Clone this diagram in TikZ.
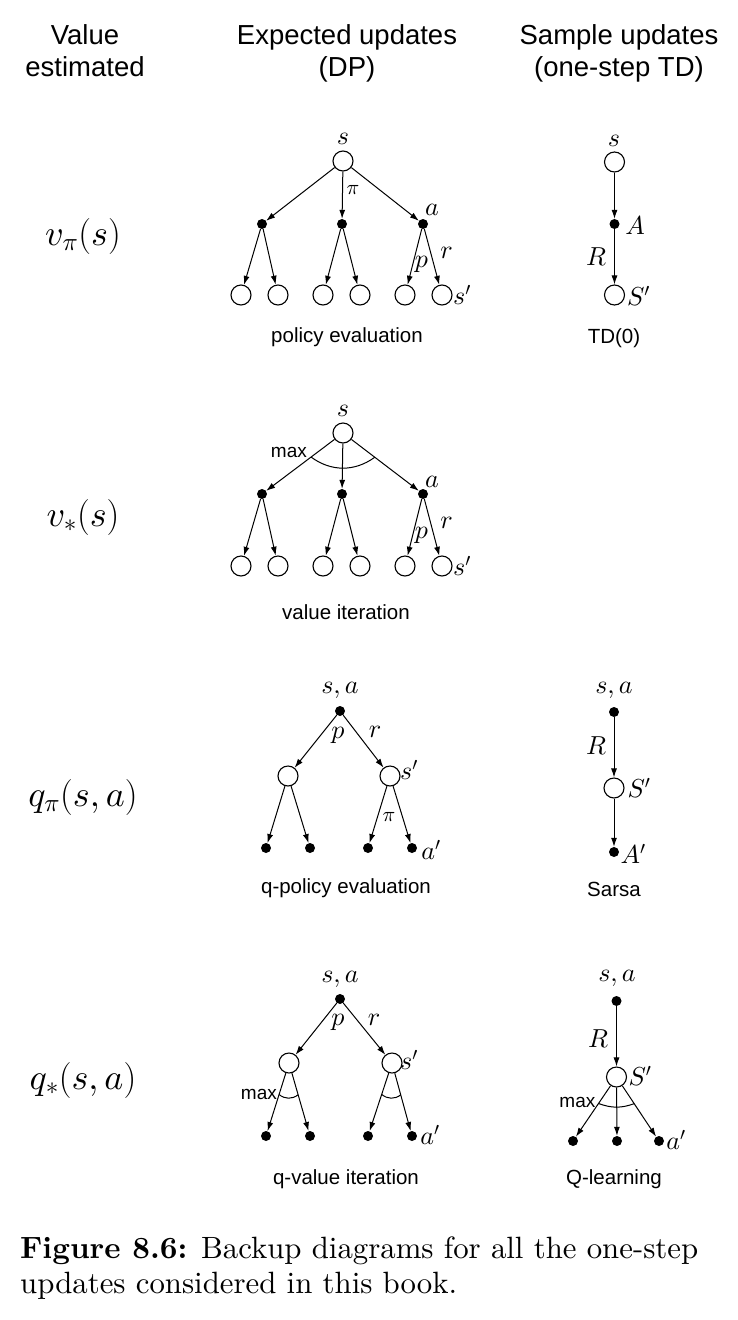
\RequirePackage{fix-cm}
\documentclass[tikz,border=0pt]{standalone}
\usepackage{fontspec}
\DeclareFontShape{OML}{cmm}{m}{it}{<->cmmi10}{}
\DeclareFontShape{OMS}{cmsy}{m}{n}{<->cmsy10}{}
\newfontfamily\hv{Liberation Sans}
\newfontfamily\cmten{lmroman10-regular.otf}[BoldFont=lmroman10-bold.otf]
\usetikzlibrary{arrows.meta,calc}
\begin{document}
\begin{tikzpicture}[x=1pt,y=1pt,
 st/.style={circle,draw,line width=1.1pt,minimum size=20pt,inner sep=0pt},
 act/.style={circle,fill=black,minimum size=10pt,inner sep=0pt},
 arr/.style={-{Latex[length=9pt,width=6pt]},line width=1pt},
 lab/.style={inner sep=0pt,font=\fontsize{26}{30}\selectfont},
 sml/.style={inner sep=0pt,font=\fontsize{21}{24}\selectfont},
 biglab/.style={inner sep=0pt,font=\fontsize{36}{42}\selectfont},
 hdr/.style={inner sep=0pt,anchor=base,font=\hv\fontsize{27.5}{32}\selectfont},
 capt/.style={inner sep=0pt,font=\hv\fontsize{20.5}{24}\selectfont},
 mx/.style={inner sep=0pt,font=\hv\fontsize{19}{22}\selectfont},
 maxarc/.style={line width=1pt},
 figcap/.style={inner sep=0pt,anchor=base west,font=\cmten\fontsize{30.8}{36}\selectfont}
]
\path[use as bounding box] (0,0) rectangle (738,-1320);

% headers
\node[hdr] (h1a) at (85,-44.8) {Value};
\node[hdr] (h1b) at (85,-76.8) {estimated};
\node[hdr] (h2a) at (347,-44.8) {Expected updates};
\node[hdr] (h2b) at (347,-76.8) {(DP)};
\node[hdr] (h3a) at (619,-44.8) {Sample updates};
\node[hdr] (h3b) at (619,-76.8) {(one-step TD)};

% left labels
\node[biglab] (v1) at (83,-236) {$v_\pi(s)$};
\node[biglab] (v2) at (83,-517) {$v_*(s)$};
\node[biglab] (v3) at (83,-797) {$q_\pi(s,a)$};
\node[biglab] (v4) at (83,-1080) {$q_*(s,a)$};

% ---------- policy evaluation
\node[st] (r1) at (343,-161) {};
\node[act] (a11) at (262,-224) {};
\node[act] (a12) at (342,-224) {};
\node[act] (a13) at (423,-224) {};
\node[st] (l11) at (241,-295) {};
\node[st] (l12) at (278,-295) {};
\node[st] (l13) at (323,-295) {};
\node[st] (l14) at (360,-295) {};
\node[st] (l15) at (405,-295) {};
\node[st] (l16) at (442,-295) {};
\foreach \a in {a11,a12,a13} \draw[arr] (r1) -- (\a);
\draw[arr] (a11) -- (l11); \draw[arr] (a11) -- (l12);
\draw[arr] (a12) -- (l13); \draw[arr] (a12) -- (l14);
\draw[arr] (a13) -- (l15); \draw[arr] (a13) -- (l16);
\node[lab] (t11) at (343,-139) {$s$};
\node[sml] (t12) at (353,-190) {$\pi$};
\node[lab] (t13) at (432,-210) {$a$};
\node[lab] (t14) at (421.5,-264) {$p$};
\node[lab] (t15) at (446.5,-253) {$r$};
\node[lab] (t16) at (462,-295) {$s'$};
\node[capt] (c1) at (347,-337) {policy evaluation};

% ---------- TD(0)
\node[st] (r5) at (614.5,-162) {};
\node[act] (a5) at (614.5,-224) {};
\node[st] (l5) at (614.5,-295) {};
\draw[arr] (r5) -- (a5);
\draw[arr] (a5) -- (l5);
\node[lab] (t51) at (614,-141) {$s$};
\node[lab] (t52) at (635,-225.5) {$A$};
\node[lab] (t53) at (596,-257) {$R$};
\node[lab] (t54) at (638.5,-296) {$S'$};
\node[capt] (c5) at (614,-338) {TD(0)};

% ---------- value iteration
\node[st] (r2) at (343,-433) {};
\node[act] (a21) at (262,-494) {};
\node[act] (a22) at (342,-494) {};
\node[act] (a23) at (423,-494) {};
\node[st] (l21) at (241,-566) {};
\node[st] (l22) at (278,-566) {};
\node[st] (l23) at (323,-566) {};
\node[st] (l24) at (360,-566) {};
\node[st] (l25) at (405,-566) {};
\node[st] (l26) at (442,-566) {};
\foreach \a in {a21,a22,a23} \draw[arr] (r2) -- (\a);
\draw[arr] (a21) -- (l21); \draw[arr] (a21) -- (l22);
\draw[arr] (a22) -- (l23); \draw[arr] (a22) -- (l24);
\draw[arr] (a23) -- (l25); \draw[arr] (a23) -- (l26);
\coordinate (m2L) at ($(r2)!40pt!(a21)$);
\coordinate (m2R) at ($(r2)!40pt!(a23)$);
\draw[maxarc] (m2L) to[bend right=36] (m2R);
\node[mx,anchor=east] (x2) at ($(m2L)+(-4,5)$) {max};
\node[lab] (t21) at (343,-411) {$s$};
\node[lab] (t23) at (432,-482) {$a$};
\node[lab] (t24) at (421.5,-535) {$p$};
\node[lab] (t25) at (446.5,-523) {$r$};
\node[lab] (t26) at (462,-566) {$s'$};
\node[capt] (c2) at (346,-612) {value iteration};

% ---------- q-policy evaluation
\node[act] (r3) at (340,-711) {};
\node[st] (b31) at (288,-776) {};
\node[st] (b32) at (390,-776) {};
\node[act] (l31) at (266,-848) {};
\node[act] (l32) at (310,-848) {};
\node[act] (l33) at (368,-848) {};
\node[act] (l34) at (412,-848) {};
\draw[arr] (r3) -- (b31); \draw[arr] (r3) -- (b32);
\draw[arr] (b31) -- (l31); \draw[arr] (b31) -- (l32);
\draw[arr] (b32) -- (l33); \draw[arr] (b32) -- (l34);
\node[lab] (t31) at (340,-690) {$s,a$};
\node[lab] (t32) at (338,-735) {$p$};
\node[lab] (t33) at (375,-732) {$r$};
\node[lab] (t34) at (409,-770) {$s'$};
\node[sml] (t35) at (389,-817) {$\pi$};
\node[lab] (t36) at (431,-850) {$a'$};
\node[capt] (c3) at (346,-888) {q-policy evaluation};

% ---------- Sarsa
\node[act] (r6) at (614,-712) {};
\node[st] (b6) at (614,-788) {};
\node[act] (l6) at (614,-852) {};
\draw[arr] (r6) -- (b6);
\draw[arr] (b6) -- (l6);
\node[lab] (t61) at (614,-690) {$s,a$};
\node[lab] (t62) at (596,-746) {$R$};
\node[lab] (t63) at (639,-788) {$S'$};
\node[lab] (t64) at (633,-854) {$A'$};
\node[capt] (c6) at (614,-889) {Sarsa};

% ---------- q-value iteration
\node[act] (r4) at (340,-999) {};
\node[st] (b41) at (289,-1063) {};
\node[st] (b42) at (392,-1063) {};
\node[act] (l41) at (266,-1136) {};
\node[act] (l42) at (310,-1136) {};
\node[act] (l43) at (368,-1136) {};
\node[act] (l44) at (412,-1136) {};
\draw[arr] (r4) -- (b41); \draw[arr] (r4) -- (b42);
\draw[arr] (b41) -- (l41); \draw[arr] (b41) -- (l42);
\draw[arr] (b42) -- (l43); \draw[arr] (b42) -- (l44);
\coordinate (m41L) at ($(b41)!33pt!(l41)$);
\coordinate (m41R) at ($(b41)!33pt!(l42)$);
\coordinate (m42L) at ($(b42)!33pt!(l43)$);
\coordinate (m42R) at ($(b42)!33pt!(l44)$);
\draw[maxarc] (m41L) to[bend right=40] (m41R);
\draw[maxarc] (m42L) to[bend right=40] (m42R);
\node[mx,anchor=east] (x4) at ($(m41L)+(-2,0)$) {max};
\node[lab] (t41) at (340,-979) {$s,a$};
\node[lab] (t42) at (338,-1022) {$p$};
\node[lab] (t43) at (374,-1020) {$r$};
\node[lab] (t44) at (409,-1060) {$s'$};
\node[lab] (t45) at (430,-1135) {$a'$};
\node[capt] (c4) at (346,-1179) {q-value iteration};

% ---------- Q-learning
\node[act] (r7) at (616.5,-1001) {};
\node[st] (b7) at (616.5,-1077) {};
\node[act] (l71) at (573,-1141) {};
\node[act] (l72) at (617,-1141) {};
\node[act] (l73) at (659,-1141) {};
\draw[arr] (r7) -- (b7);
\foreach \l in {l71,l72,l73} \draw[arr] (b7) -- (\l);
\coordinate (m7L) at ($(b7)!32pt!(l71)$);
\coordinate (m7R) at ($(b7)!32pt!(l73)$);
\draw[maxarc] (m7L) to[bend right=20] (m7R);
\node[mx,anchor=east] (x7) at ($(m7L)+(-3,1)$) {max};
\node[lab] (t71) at (617,-978) {$s,a$};
\node[lab] (t72) at (598,-1039) {$R$};
\node[lab] (t73) at (640,-1076) {$S'$};
\node[lab] (t74) at (676,-1140) {$a'$};
\node[capt] (c7) at (614,-1179) {Q-learning};

% caption
\node[figcap] (f1) at (20,-1258) {\textbf{Figure 8.6:} Backup diagrams for all the one-step};
\node[figcap] (f2) at (20,-1293) {updates considered in this book.};
\end{tikzpicture}
\end{document}
